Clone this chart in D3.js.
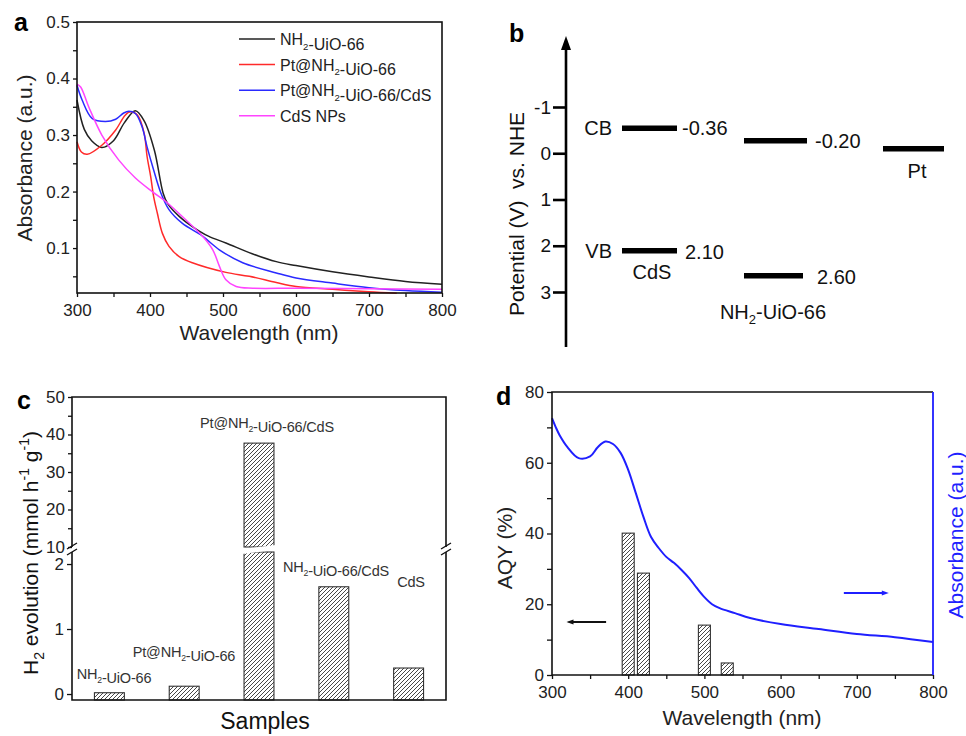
<!DOCTYPE html>
<html>
<head>
<meta charset="utf-8">
<title>UiO-66 figure</title>
<script src="https://d3js.org/d3.v7.min.js"></script>
<style>
body { margin: 0; background: #fff; }
svg { font-family: "Liberation Sans", Arial, sans-serif; }
</style>
</head>
<body>
<svg id="fig" width="966" height="736"></svg>
<script>
// ---- panel a: UV-vis absorbance [wavelength nm, absorbance] ----
const absNH2 = [[300,0.362],[310,0.31],[320,0.29],[334,0.278],[350,0.29],[365,0.322],[380,0.343],[392,0.325],[406,0.273],[418,0.197],[424,0.179],[440,0.156],[458,0.138],[480,0.121],[504,0.109],[540,0.09],[573,0.076],[600,0.069],[650,0.058],[700,0.049],[750,0.041],[800,0.036]];
const absPt = [[300,0.288],[306,0.27],[314,0.266],[334,0.282],[353,0.309],[366,0.335],[373,0.341],[383,0.335],[392,0.303],[396,0.262],[401,0.226],[405,0.191],[410,0.162],[417,0.126],[426,0.103],[440,0.085],[458,0.074],[504,0.057],[536,0.05],[573,0.039],[600,0.032],[650,0.027],[700,0.0225],[738,0.02]];
const absPtCdS = [[300,0.388],[307,0.362],[321,0.329],[339,0.324],[353,0.328],[364,0.339],[371,0.342],[380,0.338],[389,0.315],[396,0.279],[405,0.238],[415,0.197],[426,0.168],[444,0.144],[472,0.121],[495,0.097],[527,0.074],[573,0.056],[600,0.047],[650,0.038],[700,0.03],[750,0.025],[800,0.022]];
const absCdS = [[300,0.39],[305,0.385],[316,0.35],[334,0.3],[357,0.256],[380,0.224],[403,0.2],[422,0.182],[449,0.15],[472,0.121],[486,0.097],[495,0.068],[504,0.044],[518,0.032],[541,0.029],[600,0.029],[700,0.028],[800,0.027]];
const legendA = ["NH2-UiO-66", "Pt@NH2-UiO-66", "Pt@NH2-UiO-66/CdS", "CdS NPs"];
const colorsA = ["#222", "#ff2a2a", "#2a2aff", "#ff44ff"];

// ---- panel b: band positions (drawn position, label) ----
const bandMaterials = ["CdS", "NH2-UiO-66", "Pt"];
const bandCB = [-0.54, -0.27, -0.10];
const bandVB = [2.11, 2.65, null];
const bandCBText = ["-0.36", "-0.20", null];
const bandVBText = ["2.10", "2.60", null];
const potTicks = [-1, 0, 1, 2, 3];

// ---- panel c: H2 evolution ----
const samples = ["NH2-UiO-66", "Pt@NH2-UiO-66", "Pt@NH2-UiO-66/CdS", "NH2-UiO-66/CdS", "CdS"];
const h2Rate = [0.02, 0.12, 37.7, 1.65, 0.40];

// ---- panel d: AQY and absorbance ----
const aqyWl = [400, 420, 500, 530];
const aqyVal = [40.1, 28.8, 14.1, 3.4];
const absD = [[300,72.6],[305,70],[310,67.8],[320,64.5],[335,61.3],[350,61.8],[360,64.4],[370,66],[380,65.3],[390,62.8],[400,58],[410,51.4],[420,44.7],[430,39],[440,35.9],[450,33.4],[460,31.7],[470,29.7],[480,27.4],[490,24.6],[500,22],[510,20],[520,18.9],[540,17.5],[560,16.1],[600,14.4],[650,13],[700,11.6],[750,10.7],[800,9.3]];

const svg = d3.select("#fig");
const defs = svg.append("defs");
const hatch = defs.append("pattern").attr("id", "hatch")
  .attr("patternUnits", "userSpaceOnUse").attr("width", 4).attr("height", 4);
hatch.append("rect").attr("width", 4).attr("height", 4).attr("fill", "#fff");
hatch.append("path").attr("d", "M-1,1 l2,-2 M0,4 l4,-4 M3,5 l2,-2")
  .attr("stroke", "#333").attr("stroke-width", 0.9);

// text with "2" subscripts after NH and superscripts
function richText(sel, str, size) {
  const parts = str.split(/(NH2|\^-1)/);
  parts.forEach(p => {
    if (p === "NH2") {
      sel.append("tspan").text("NH");
      sel.append("tspan").attr("font-size", size * 0.6).attr("dy", size * 0.3).text("2");
      sel.append("tspan").attr("dy", -size * 0.3).text("");
    } else if (p === "^-1") {
      sel.append("tspan").attr("font-size", size * 0.6).attr("dy", -size * 0.45).text("-1");
      sel.append("tspan").attr("dy", size * 0.45).text("");
    } else if (p) {
      sel.append("tspan").text(p);
    }
  });
}

function frame(g, x0, x1, y0, y1, color) {
  g.append("rect").attr("x", x0).attr("y", y0).attr("width", x1 - x0).attr("height", y1 - y0)
    .attr("fill", "none").attr("stroke", color || "#111").attr("stroke-width", 1.6);
}

function styleAxis(a) {
  a.select(".domain").remove();
  a.selectAll("line").attr("stroke", "#111").attr("stroke-width", 1.3);
  a.selectAll("text").attr("font-size", 17).attr("fill", "#222").attr("font-family", "Liberation Sans, Arial");
}

// ================= panel a =================
{
  const g = svg.append("g");
  const x = d3.scaleLinear().domain([300, 800]).range([77, 442]);
  const y = d3.scaleLinear().domain([0.0205, 0.5]).range([293, 22]);
  const line = d3.line().x(d => x(d[0])).y(d => y(d[1])).curve(d3.curveCatmullRom);
  [absNH2, absPt, absPtCdS, absCdS].forEach((s, i) => {
    g.append("path").datum(s).attr("d", line).attr("fill", "none")
      .attr("stroke", colorsA[i]).attr("stroke-width", 1.5);
  });
  frame(g, 77, 442, 22, 293);
  const xa = g.append("g").attr("transform", "translate(0,293)")
    .call(d3.axisBottom(x).tickValues(d3.range(300, 801, 50)).tickSize(4).tickFormat(d => d % 100 ? "" : d));
  const ya = g.append("g").attr("transform", "translate(77,0)")
    .call(d3.axisLeft(y).tickValues(d3.range(0.05, 0.501, 0.05)).tickSize(4)
      .tickFormat(d => Math.round(d * 100) % 10 ? "" : d3.format(".1f")(d)));
  styleAxis(xa); styleAxis(ya);
  xa.selectAll("text").attr("dy", "0.93em");
  g.append("text").attr("x", 259).attr("y", 340).attr("text-anchor", "middle").attr("font-size", 21)
    .attr("fill", "#222").text("Wavelength (nm)");
  g.append("text").attr("transform", "translate(32,158) rotate(-90)").attr("text-anchor", "middle")
    .attr("font-size", 21).attr("fill", "#222").text("Absorbance (a.u.)");
  g.append("text").attr("x", 14).attr("y", 31).attr("font-size", 25).attr("font-weight", "bold").text("a");
  legendA.forEach((t, i) => {
    const yy = 39 + i * 25.6;
    g.append("line").attr("x1", 239).attr("x2", 275).attr("y1", yy).attr("y2", yy)
      .attr("stroke", colorsA[i]).attr("stroke-width", 1.5);
    richText(g.append("text").attr("x", 280).attr("y", yy + 6).attr("font-size", 16).attr("fill", "#222"), t, 16);
  });
}

// ================= panel b =================
{
  const g = svg.append("g");
  const y = d3.scaleLinear().domain([-1, 3]).range([107, 292]);
  const ax = 566;
  g.append("line").attr("x1", ax).attr("x2", ax).attr("y1", 347).attr("y2", 46)
    .attr("stroke", "#000").attr("stroke-width", 2.6);
  g.append("path").attr("d", `M${ax - 5},50 L${ax},36 L${ax + 5},50 Z`).attr("fill", "#000");
  const ya = g.append("g").attr("transform", `translate(${ax},0)`)
    .call(d3.axisLeft(y).tickValues(potTicks).tickSize(13).tickPadding(2).tickFormat(d => String(d)));
  ya.select(".domain").remove();
  ya.selectAll("line").attr("stroke", "#000").attr("stroke-width", 2.6);
  ya.selectAll("text").attr("font-size", 19).attr("fill", "#111").attr("font-family", "Liberation Sans, Arial");
  g.append("text").attr("transform", "translate(524,214) rotate(-90)").attr("text-anchor", "middle")
    .attr("font-size", 21).attr("fill", "#111").attr("xml:space", "preserve").text("Potential (V)  vs. NHE");
  g.append("text").attr("x", 509).attr("y", 42).attr("font-size", 25).attr("font-weight", "bold").text("b");

  const barX = [[622, 677], [744, 807], [883, 944]];
  const barXvb = [[622, 677], [744, 803]];
  bandCB.forEach((v, i) => {
    g.append("line").attr("x1", barX[i][0]).attr("x2", barX[i][1]).attr("y1", y(v)).attr("y2", y(v))
      .attr("stroke", "#000").attr("stroke-width", 5.5);
    if (bandCBText[i]) g.append("text").attr("x", barX[i][1] + (i ? 8 : 5)).attr("y", y(v) + 7)
      .attr("font-size", 20).attr("fill", "#111").text(bandCBText[i]);
  });
  bandVB.forEach((v, i) => {
    if (v === null) return;
    g.append("line").attr("x1", barXvb[i][0]).attr("x2", barXvb[i][1]).attr("y1", y(v)).attr("y2", y(v))
      .attr("stroke", "#000").attr("stroke-width", 5.5);
    g.append("text").attr("x", barXvb[i][1] + (i ? 14 : 8)).attr("y", y(v) + 8)
      .attr("font-size", 20).attr("fill", "#111").text(bandVBText[i]);
  });
  g.append("text").attr("x", 612).attr("y", y(bandCB[0]) + 7).attr("text-anchor", "end")
    .attr("font-size", 20).attr("fill", "#111").text("CB");
  g.append("text").attr("x", 612).attr("y", y(bandVB[0]) + 7).attr("text-anchor", "end")
    .attr("font-size", 20).attr("fill", "#111").text("VB");
  g.append("text").attr("x", 652).attr("y", 279).attr("text-anchor", "middle")
    .attr("font-size", 20).attr("fill", "#111").text(bandMaterials[0]);
  const nh = g.append("text").attr("x", 773).attr("y", 319).attr("text-anchor", "middle")
    .attr("font-size", 20).attr("fill", "#111");
  nh.append("tspan").text("NH");
  nh.append("tspan").attr("font-size", 13).attr("dy", 5).text("2");
  nh.append("tspan").attr("dy", -5).text("-UiO-66");
  g.append("text").attr("x", 917).attr("y", 178).attr("text-anchor", "middle")
    .attr("font-size", 20).attr("fill", "#111").text(bandMaterials[2]);
}

// ================= panel c =================
{
  const g = svg.append("g");
  const L = 72, R = 446, T = 397, B = 700;
  const x = d3.scaleBand().domain(samples).range([L, R]).paddingInner(0.6).paddingOuter(0.3);
  const yUp = d3.scaleLinear().domain([10, 50]).range([547, T]);
  const yLo = d3.scaleLinear().domain([-0.092, 2.185]).range([B, 552]);
  h2Rate.forEach((v, i) => {
    const bx = x(samples[i]), bw = x.bandwidth();
    const topLo = yLo(Math.min(v, 2.185));
    g.append("rect").attr("x", bx).attr("y", topLo).attr("width", bw).attr("height", B - topLo)
      .attr("fill", "url(#hatch)").attr("stroke", "#333").attr("stroke-width", 1.1);
    if (v > 10) {
      g.append("rect").attr("x", bx).attr("y", yUp(v)).attr("width", bw).attr("height", 547 - yUp(v))
        .attr("fill", "url(#hatch)").attr("stroke", "#333").attr("stroke-width", 1.1);
      g.append("path").attr("d", `M${bx - 2},549 L${bx + bw + 2},545 L${bx + bw + 2},550 L${bx - 2},554 Z`)
        .attr("fill", "#fff");
    }
  });
  // frame with axis break
  const fs = "#111";
  g.append("path").attr("d", `M${L},547 V${T} H${R} V547 M${L},552 V${B} H${R} V552`)
    .attr("fill", "none").attr("stroke", fs).attr("stroke-width", 1.6);
  [L, R].forEach(bx => {
    g.append("path").attr("d", `M${bx - 5},549 l10,-6 M${bx - 5},555 l10,-6`)
      .attr("stroke", fs).attr("stroke-width", 1.4);
  });
  const ya1 = g.append("g").attr("transform", `translate(${L},0)`)
    .call(d3.axisLeft(yUp).tickValues(d3.range(10, 51, 5)).tickSize(4).tickFormat(d => d % 10 ? "" : d));
  const ya2 = g.append("g").attr("transform", `translate(${L},0)`)
    .call(d3.axisLeft(yLo).tickValues([0, 1, 2]).tickSize(5).tickFormat(d => String(d)));
  styleAxis(ya1); styleAxis(ya2);
  const lblPos = [[114, 679], [184, 657], [267, 428], [336, 572], [411, 587]];
  samples.forEach((s, i) => {
    richText(g.append("text").attr("x", lblPos[i][0]).attr("y", lblPos[i][1]).attr("text-anchor", "middle")
      .attr("font-size", 14.5).attr("fill", "#333").attr("letter-spacing", -0.2), s, 14.5);
  });
  g.append("text").attr("x", 265).attr("y", 729).attr("text-anchor", "middle").attr("font-size", 23)
    .attr("fill", "#111").text("Samples");
  const yl = g.append("text").attr("transform", "translate(38,553) rotate(-90)").attr("text-anchor", "middle")
    .attr("font-size", 21).attr("fill", "#111");
  yl.append("tspan").text("H");
  yl.append("tspan").attr("font-size", 14).attr("dy", 6).text("2");
  yl.append("tspan").attr("dy", -6).text(" evolution (mmol h");
  yl.append("tspan").attr("font-size", 14).attr("dy", -9).text("-1");
  yl.append("tspan").attr("dy", 9).text(" g");
  yl.append("tspan").attr("font-size", 14).attr("dy", -9).text("-1");
  yl.append("tspan").attr("dy", 9).text(")");
  g.append("text").attr("x", 17).attr("y", 409).attr("font-size", 25).attr("font-weight", "bold").text("c");
}

// ================= panel d =================
{
  const g = svg.append("g");
  const L = 552, R = 933, T = 392, B = 675;
  const x = d3.scaleLinear().domain([300, 800]).range([L, R]);
  const y = d3.scaleLinear().domain([0, 80]).range([B, T]);
  const yR = d3.scaleLinear().domain([0, 80]).range([B, T]);
  const bw = 12;
  aqyWl.forEach((w, i) => {
    g.append("rect").attr("x", x(w) - bw / 2).attr("y", y(aqyVal[i])).attr("width", bw)
      .attr("height", B - y(aqyVal[i])).attr("fill", "url(#hatch)").attr("stroke", "#333").attr("stroke-width", 1.1);
  });
  g.append("path").datum(absD)
    .attr("d", d3.line().x(d => x(d[0])).y(d => yR(d[1])).curve(d3.curveCatmullRom))
    .attr("fill", "none").attr("stroke", "#1f1fff").attr("stroke-width", 2);
  g.append("path").attr("d", `M${L},${B} V${T} H${R}`).attr("fill", "none").attr("stroke", "#111").attr("stroke-width", 1.6);
  g.append("line").attr("x1", L).attr("x2", R).attr("y1", B).attr("y2", B).attr("stroke", "#111").attr("stroke-width", 1.6);
  g.append("line").attr("x1", R).attr("x2", R).attr("y1", T).attr("y2", B).attr("stroke", "#1f1fff").attr("stroke-width", 1.8);
  const xa = g.append("g").attr("transform", `translate(0,${B})`)
    .call(d3.axisBottom(x).tickValues(d3.range(300, 801, 50)).tickSize(4).tickFormat(d => d % 100 ? "" : d));
  const ya = g.append("g").attr("transform", `translate(${L},0)`)
    .call(d3.axisLeft(y).tickValues(d3.range(0, 81, 10)).tickSize(5).tickFormat(d => d % 20 ? "" : d));
  styleAxis(xa); styleAxis(ya);
  xa.selectAll("text").attr("dy", "0.93em");
  // direction arrows
  g.append("line").attr("x1", x(371)).attr("x2", x(322)).attr("y1", y(15)).attr("y2", y(15))
    .attr("stroke", "#111").attr("stroke-width", 2);
  g.append("path").attr("d", `M${x(319)},${y(15)} l7,-2.5 v5 Z`).attr("fill", "#111");
  g.append("line").attr("x1", x(683)).attr("x2", x(738)).attr("y1", y(23.2)).attr("y2", y(23.2))
    .attr("stroke", "#1f1fff").attr("stroke-width", 2);
  g.append("path").attr("d", `M${x(742)},${y(23.2)} l-7,-2.5 v5 Z`).attr("fill", "#1f1fff");
  g.append("text").attr("x", 742).attr("y", 725).attr("text-anchor", "middle").attr("font-size", 21)
    .attr("fill", "#222").text("Wavelength (nm)");
  g.append("text").attr("transform", "translate(512,548) rotate(-90)").attr("text-anchor", "middle")
    .attr("font-size", 21).attr("fill", "#222").text("AQY (%)");
  g.append("text").attr("transform", "translate(963,535) rotate(-90)").attr("text-anchor", "middle")
    .attr("font-size", 21).attr("fill", "#1f1fff").text("Absorbance (a.u.)");
  g.append("text").attr("x", 496).attr("y", 405).attr("font-size", 25).attr("font-weight", "bold").text("d");
}
</script>
</body>
</html>
